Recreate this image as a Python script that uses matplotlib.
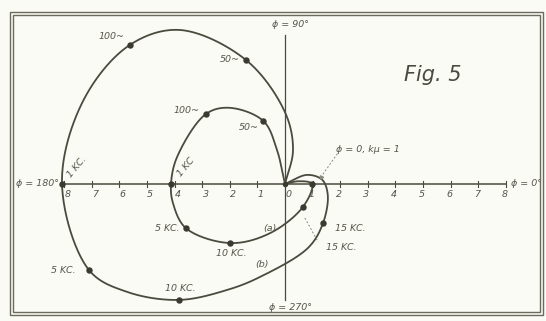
import numpy as np
import matplotlib
matplotlib.use("Agg")
import matplotlib.pyplot as plt
from matplotlib.patches import Rectangle

# Locus (b): points, starting and ending at the origin
curve_b_x = [0.0, 0.29, 0.0, -1.41, -3.8, -5.62, -7.3, -8.08, -7.1, -5.72, -3.84, -2.1, -0.91, 0.85, 1.38, 1.55, 1.35, 0.8, 0.0]
curve_b_y = [0.0, 1.23, 2.6, 4.49, 5.58, 5.04, 3.04, 0.0, -3.12, -3.91, -4.2, -3.84, -3.37, -2.3, -1.41, -0.4, 0.15, 0.33, 0.0]

# Locus (a)
curve_a_x = [0.0, -0.29, -0.78, -2.0, -2.86, -3.91, -4.13, -4.06, -3.59, -1.99, -0.54, 0.65, 0.98, 0.5, 0.0]
curve_a_y = [0.0, 1.23, 2.28, 2.76, 2.54, 0.98, 0.0, -0.69, -1.6, -2.14, -1.78, -0.83, 0.0, 0.1, 0.0]

# Marked frequency points
marks_b = {"50~": (-1.41, 4.49), "100~": (-5.62, 5.04), "1 KC.": (-8.08, 0.0),
           "5 KC.": (-7.1, -3.12), "10 KC.": (-3.84, -4.2), "15 KC.": (1.38, -1.41)}
marks_a = {"50~": (-0.78, 2.28), "100~": (-2.86, 2.54), "1 KC": (-4.13, 0.0),
           "5 KC.": (-3.59, -1.6), "10 KC.": (-1.99, -2.14), "15 KC.": (0.65, -0.83)}
unity_point = (0.98, 0.0)

axis_ticks_left = [8, 7, 6, 5, 4, 3, 2, 1, 0]
axis_ticks_right = [1, 2, 3, 4, 5, 6, 7, 8]

INK = "#4a4a3e"
TXT = "#55554a"
BG = "#fbfbf5"


def smooth_path(xs, ys, n=40, alpha=0.5):
    """Centripetal Catmull-Rom spline through the given points."""
    p = np.column_stack([xs, ys]).astype(float)
    p = np.vstack([p[0] * 2 - p[1], p, p[-1] * 2 - p[-2]])
    out = []
    for i in range(1, len(p) - 2):
        p0, p1, p2, p3 = p[i - 1], p[i], p[i + 1], p[i + 2]
        t0 = 0.0
        t1 = t0 + max(np.linalg.norm(p1 - p0), 1e-6) ** alpha
        t2 = t1 + max(np.linalg.norm(p2 - p1), 1e-6) ** alpha
        t3 = t2 + max(np.linalg.norm(p3 - p2), 1e-6) ** alpha
        t = np.linspace(t1, t2, n, endpoint=False)[:, None]
        a1 = (t1 - t) / (t1 - t0) * p0 + (t - t0) / (t1 - t0) * p1
        a2 = (t2 - t) / (t2 - t1) * p1 + (t - t1) / (t2 - t1) * p2
        a3 = (t3 - t) / (t3 - t2) * p2 + (t - t2) / (t3 - t2) * p3
        b1 = (t2 - t) / (t2 - t0) * a1 + (t - t0) / (t2 - t0) * a2
        b2 = (t3 - t) / (t3 - t1) * a2 + (t - t1) / (t3 - t1) * a3
        out.append((t2 - t) / (t2 - t1) * b1 + (t - t1) / (t2 - t1) * b2)
    out.append(p[-2][None, :])
    s = np.vstack(out)
    return s[:, 0], s[:, 1]


fig = plt.figure(figsize=(5.46, 3.21), dpi=100)
fig.patch.set_facecolor(BG)
ax = fig.add_axes([0, 0, 1, 1])
ax.set_facecolor(BG)
scale = 27.6
ox, oy = 285, 184
ax.set_xlim(-ox / scale, (546 - ox) / scale)
ax.set_ylim((oy - 321) / scale, oy / scale)
ax.axis("off")

# double frame
for (x0, y0, x1, y1) in [(10, 12, 543, 315), (13, 15, 540, 312)]:
    fig.patches.append(Rectangle((x0 / 546, 1 - y1 / 321), (x1 - x0) / 546, (y1 - y0) / 321,
                                 transform=fig.transFigure, fill=False, ec="#6a6a5e", lw=1.0))

# axes of the polar diagram
ax.plot([-8.08, 8.0], [0, 0], color=INK, lw=1.1)
ax.plot([0, 0], [-4.2, 5.4], color=INK, lw=0.9)
for v in axis_ticks_left:
    if v:
        ax.plot([-v, -v], [-0.1, 0.1], color=INK, lw=0.8)
    ax.text(-v + 0.12, -0.22, str(v), ha="center", va="top", fontsize=6.8,
            style="italic", color=TXT)
for v in axis_ticks_right:
    ax.plot([v, v], [-0.1, 0.1], color=INK, lw=0.8)
    ax.text(v - 0.05, -0.22, str(v), ha="center", va="top", fontsize=6.8,
            style="italic", color=TXT)

# curves
for xs, ys in [(curve_b_x, curve_b_y), (curve_a_x, curve_a_y)]:
    sx, sy = smooth_path(xs, ys)
    ax.plot(sx, sy, color=INK, lw=1.3, solid_capstyle="round")

for d in (marks_b, marks_a):
    for (x, y) in d.values():
        ax.plot(x, y, "o", ms=3.6, color="#3a3a30")
ax.plot(*unity_point, "o", ms=3.6, color="#3a3a30")
ax.plot(0, 0, "o", ms=3.0, color="#3a3a30")

fs = 6.8
kw = dict(fontsize=fs, style="italic", color=TXT)
ax.text(-6.3, 5.35, "100~", ha="center", va="center", **kw)
ax.text(-2.0, 4.5, "50~", ha="center", va="center", **kw)
ax.text(-3.55, 2.67, "100~", ha="center", va="center", **kw)
ax.text(-1.3, 2.05, "50~", ha="center", va="center", **kw)
ax.text(-7.55, 0.6, "1 KC.", ha="center", va="center", rotation=50, **kw)
ax.text(-3.6, 0.6, "1 KC", ha="center", va="center", rotation=50, **kw)
ax.text(-7.6, -3.12, "5 KC.", ha="right", va="center", **kw)
ax.text(-3.8, -1.6, "5 KC.", ha="right", va="center", **kw)
ax.text(-3.8, -3.77, "10 KC.", ha="center", va="center", **kw)
ax.text(-1.95, -2.5, "10 KC.", ha="center", va="center", **kw)
ax.text(-0.55, -1.6, "(a)", ha="center", va="center", **kw)
ax.text(-0.83, -2.93, "(b)", ha="center", va="center", **kw)
ax.text(1.8, -1.6, "15 KC.", ha="left", va="center", **kw)
ax.text(1.5, -2.3, "15 KC.", ha="left", va="center", **kw)
ax.text(1.85, 1.25, "ϕ = 0, kμ = 1", ha="left", va="center", **kw)

# leader lines
ax.plot([1.9, 1.3], [1.1, 0.25], color="#8a8a7e", lw=0.7, ls=(0, (2, 2)))
ax.plot([1.3], [0.25], marker=(3, 0, 35), ms=3, color="#8a8a7e")
ax.plot([0.72, 1.2], [-1.23, -2.1], color="#8a8a7e", lw=0.7, ls=(0, (2, 2)))

ax.text(0.2, 5.6, "ϕ = 90°", ha="center", va="bottom", **kw)
ax.text(-8.2, 0.0, "ϕ = 180°", ha="right", va="center", **kw)
ax.text(8.2, 0.0, "ϕ = 0°", ha="left", va="center", **kw)
ax.text(0.2, -4.3, "ϕ = 270°", ha="center", va="top", **kw)
ax.text(5.36, 3.95, "Fig. 5", ha="center", va="center", fontsize=15, style="italic", color="#4a4a40")

fig.savefig("out.png", dpi=100, facecolor=BG)
